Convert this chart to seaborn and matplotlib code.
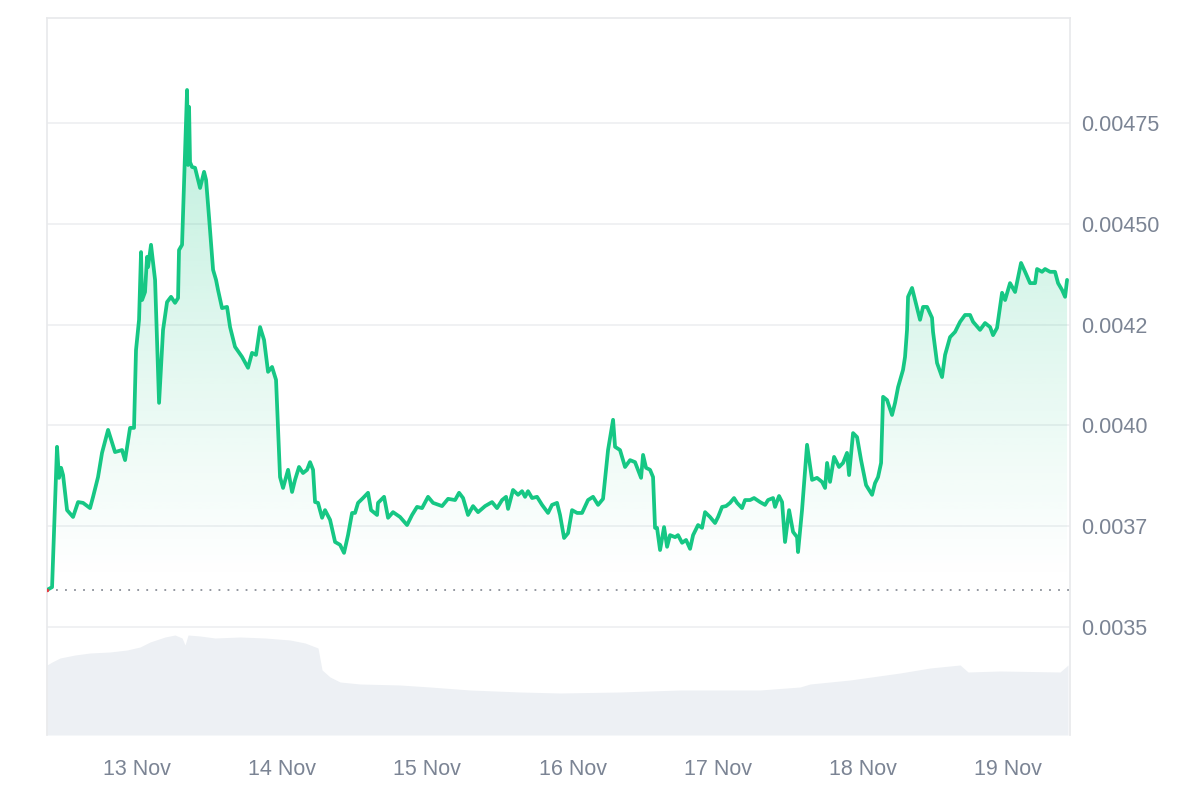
import numpy as np
import pandas as pd
import matplotlib
matplotlib.use("Agg")
import matplotlib.pyplot as plt
import seaborn as sns
from matplotlib.colors import to_rgb

# hours since 12 Nov 00:00
hours = [
    9.12, 9.95, 10.77, 11.10, 11.44, 11.77, 12.43, 13.42, 14.25, 15.07,
    16.23, 16.73, 17.55, 18.21, 19.21, 20.36, 21.52, 22.02, 22.84, 23.50,
    23.83, 24.33, 24.66, 24.83, 25.32, 25.65, 25.82, 26.31, 26.98, 27.64,
    28.30, 28.96, 29.62, 30.28, 30.78, 30.94, 31.44, 32.10, 32.27, 32.43,
    32.60, 32.76, 33.09, 33.59, 34.42, 35.08, 35.41, 35.90, 36.57, 37.06,
    37.39, 38.05, 38.88, 39.38, 40.20, 41.36, 42.35, 43.01, 43.67, 44.34,
    45.00, 45.66, 46.32, 46.98, 47.64, 48.14, 48.97, 49.63, 50.12, 50.78,
    51.44, 52.11, 52.60, 53.10, 53.43, 53.92, 54.59, 55.08, 55.91, 56.74,
    57.56, 58.22, 58.88, 59.55, 60.04, 60.54, 61.36, 62.19, 62.69, 63.68,
    63.84, 64.84, 65.50, 66.32, 67.48, 68.64, 69.47, 70.29, 71.12, 72.11,
    72.94, 74.43, 75.42, 76.58, 77.24, 77.90, 78.72, 79.55, 80.38, 81.54,
    82.69, 83.52, 84.35, 85.01, 85.34, 86.16, 86.99, 87.65, 88.15, 88.64,
    89.31, 90.13, 90.96, 91.95, 92.61, 93.44, 93.93, 94.60, 95.26, 95.92,
    96.75, 97.57, 98.56, 99.39, 100.22, 101.04, 101.87, 102.70, 103.03, 103.85,
    104.68, 105.51, 106.33, 107.33, 107.66, 108.15, 108.81, 109.31, 109.64, 109.97,
    110.47, 111.13, 111.63, 112.12, 112.95, 113.44, 114.11, 114.77, 115.43, 115.93,
    116.75, 117.41, 117.91, 118.73, 119.56, 120.06, 120.72, 121.38, 122.04, 122.70,
    123.20, 124.02, 124.52, 125.35, 126.01, 127.00, 127.83, 128.32, 129.15, 129.48,
    130.14, 130.64, 131.13, 131.80, 132.46, 133.12, 133.28, 133.94, 134.77, 135.60,
    136.42, 137.25, 137.75, 138.08, 138.57, 139.24, 140.06, 140.72, 141.38, 141.72,
    142.38, 143.04, 143.70, 144.53, 145.52, 146.01, 146.51, 147.01, 147.34, 148.00,
    148.82, 149.32, 149.82, 150.64, 150.97, 151.30, 151.47, 152.13, 152.96, 153.45,
    153.95, 154.61, 155.43, 155.60, 156.26, 157.09, 157.59, 158.41, 159.24, 160.07,
    160.89, 161.72, 162.22, 163.37, 164.20, 165.03, 165.52, 166.18, 167.01, 167.51,
    168.33, 169.16, 170.15, 170.82, 171.64, 172.47, 172.80, 173.62, 174.12, 174.95,
    175.77, 176.27, 176.93, 177.43, 177.76,
]

# price in units of 1e-5 USD
price_e5 = [
    359.2, 359.9, 394.7, 387.0, 389.5, 387.7, 379.0, 377.3, 381.0, 380.8,
    379.5, 382.3, 387.2, 393.2, 398.9, 393.4, 393.9, 391.4, 399.4, 399.4,
    418.7, 426.2, 443.0, 431.1, 433.1, 441.8, 439.3, 444.8, 436.1, 405.6,
    423.7, 430.6, 431.9, 430.4, 431.6, 443.5, 444.8, 475.8, 483.2, 464.6,
    479.0, 465.3, 464.1, 463.9, 458.9, 462.9, 460.9, 451.7, 438.6, 436.1,
    433.6, 429.1, 429.4, 424.4, 419.5, 417.0, 414.3, 418.0, 417.5, 424.4,
    421.2, 413.3, 414.5, 411.3, 387.2, 384.5, 389.0, 383.5, 386.5, 389.7,
    388.2, 389.0, 390.9, 389.0, 381.0, 380.8, 377.1, 379.0, 376.6, 371.1,
    370.4, 368.4, 372.8, 378.3, 378.3, 380.8, 382.0, 383.3, 379.0, 377.8,
    380.8, 382.3, 377.1, 378.5, 377.3, 375.3, 377.8, 379.8, 379.5, 382.3,
    380.8, 380.0, 381.8, 381.5, 383.3, 382.0, 377.8, 380.0, 378.5, 380.0,
    381.0, 379.5, 381.5, 382.3, 379.3, 384.0, 382.8, 383.7, 382.3, 383.7,
    382.0, 382.3, 380.3, 378.3, 380.3, 380.8, 377.8, 372.1, 373.3, 379.0,
    378.3, 378.3, 381.5, 382.3, 380.3, 381.8, 393.9, 401.4, 394.7, 393.9,
    389.7, 391.4, 390.9, 387.0, 392.7, 389.5, 389.0, 387.2, 374.6, 374.6,
    369.1, 374.8, 369.9, 372.8, 372.3, 372.8, 370.9, 371.6, 369.4, 372.8,
    375.3, 374.6, 378.5, 377.3, 375.8, 377.3, 379.8, 380.0, 380.8, 382.0,
    380.8, 379.5, 381.5, 381.5, 382.0, 381.0, 380.3, 381.5, 382.0, 379.8,
    382.5, 381.0, 371.1, 379.0, 373.6, 372.3, 368.6, 379.0, 395.2, 386.5,
    387.0, 386.0, 384.5, 390.7, 386.0, 392.2, 389.7, 390.7, 393.2, 387.7,
    398.1, 397.1, 391.4, 385.2, 382.8, 385.7, 387.2, 390.7, 407.1, 406.3,
    402.6, 405.6, 409.5, 413.8, 417.0, 423.7, 431.9, 434.1, 429.1, 426.2,
    429.4, 429.4, 426.7, 423.2, 415.5, 412.0, 417.5, 421.9, 423.2, 425.7,
    427.4, 427.4, 425.7, 423.7, 425.4, 424.4, 422.4, 424.2, 432.9, 431.1,
    435.3, 433.1, 440.3, 438.1, 435.3, 435.3, 438.8, 438.1, 438.8, 438.1,
    438.1, 435.3, 433.6, 431.9, 436.1,
]

# 24h volume (millions, relative)
vol_hours = [
    9.12, 9.95, 11.27, 13.75, 16.23, 19.54, 22.35, 24.50, 26.15, 28.63,
    30.28, 31.44, 31.94, 32.43, 34.42, 36.90, 41.03, 45.16, 49.30, 51.78,
    53.92, 54.59, 55.91, 57.56, 60.87, 67.48, 72.44, 79.05, 87.32, 93.93,
    103.85, 113.77, 127.00, 133.61, 135.27, 141.88, 150.15, 155.11, 160.07, 161.39,
    166.68, 176.60, 177.92,
]
volume = [
    0.70, 0.73, 0.77, 0.80, 0.82, 0.83, 0.85, 0.88, 0.93, 0.98,
    1.00, 0.97, 0.90, 1.00, 0.99, 0.97, 0.98, 0.97, 0.95, 0.92,
    0.87, 0.65, 0.58, 0.53, 0.51, 0.50, 0.48, 0.45, 0.43, 0.42,
    0.43, 0.45, 0.45, 0.48, 0.51, 0.55, 0.62, 0.67, 0.70, 0.63,
    0.64, 0.63, 0.70,
]

day_ticks = [24, 48, 72, 96, 120, 144, 168]
day_labels = ["13 Nov", "14 Nov", "15 Nov", "16 Nov", "17 Nov", "18 Nov", "19 Nov"]
price_ticks = [0.0035, 0.00375, 0.0040, 0.00425, 0.0045, 0.00475]
price_labels = ["0.0035", "0.0037", "0.0040", "0.0042", "0.00450", "0.00475"]

GREEN = "#16c784"
GREY_TXT = "#7b8494"
GRID = "#eeeff1"

df = pd.DataFrame({"hour": hours, "price": np.array(price_e5) * 1e-5})
vol_df = pd.DataFrame({"hour": vol_hours, "volume": volume})

sns.set_theme(style="white")
plt.rcParams["font.family"] = ["Liberation Sans", "DejaVu Sans"]

fig = plt.figure(figsize=(12, 8), dpi=100)
ax = fig.add_axes([0.0392, 0.08125, 0.8525, 0.89625])
ax_vol = ax.twinx()
ax_vol.set_zorder(0)
ax.set_zorder(1)
ax.patch.set_visible(False)

x_min, x_max = 9.12, 178.25
y_min, y_max = 0.0032323, 0.0050105

# volume area
ax_vol.fill_between(vol_df["hour"], vol_df["volume"], 0,
                    color="#edf0f4", linewidth=0)
ax_vol.set_ylim(0, 7.17)
ax_vol.set_yticks([])
for s in ax_vol.spines.values():
    s.set_visible(False)

# gradient fill under the price line
poly = ax.fill_between(df["hour"], df["price"], y_min, color="none", linewidth=0)
ramp = np.clip(np.linspace(-0.05, 1.0, 256), 0, 1) ** 1.1
rgba = np.zeros((256, 1, 4))
rgba[..., :3] = to_rgb(GREEN)
rgba[..., 3] = (ramp * 0.28)[:, None]
im = ax.imshow(rgba, extent=[x_min, x_max, 0.00355, 0.0048], origin="lower",
               aspect="auto", zorder=1, interpolation="bilinear")
im.set_clip_path(poly.get_paths()[0], transform=ax.transData)

# dotted start price line
ax.axhline(df["price"].iloc[0], color="#8a8f98", linestyle=(0, (1, 4)),
           linewidth=1.3, zorder=2)

sns.lineplot(data=df, x="hour", y="price", color=GREEN, linewidth=2.7,
             ax=ax, zorder=3)
ax.scatter([df["hour"].iloc[0]], [df["price"].iloc[0]], s=6, color="#ea3943",
           zorder=4, linewidths=0)

ax.set_xlim(x_min, x_max)
ax.set_ylim(y_min, y_max)

for t in price_ticks:
    ax.axhline(t, color=GRID, linewidth=1.2, zorder=0.5)

ax.yaxis.tick_right()
ax.set_yticks(price_ticks)
ax.set_yticklabels(price_labels)
ax.set_xticks(day_ticks)
ax.set_xticklabels(day_labels)
ax.tick_params(axis="y", length=0, pad=8, labelsize=15.5, labelcolor=GREY_TXT)
ax.tick_params(axis="x", length=0, pad=17, labelsize=15.5, labelcolor=GREY_TXT)
ax.set_xlabel("")
ax.set_ylabel("")

for name, s in ax.spines.items():
    s.set_color("#e8e9eb")
    s.set_linewidth(1.2)
ax.spines["bottom"].set_visible(False)

fig.savefig("out.png", dpi=100)
